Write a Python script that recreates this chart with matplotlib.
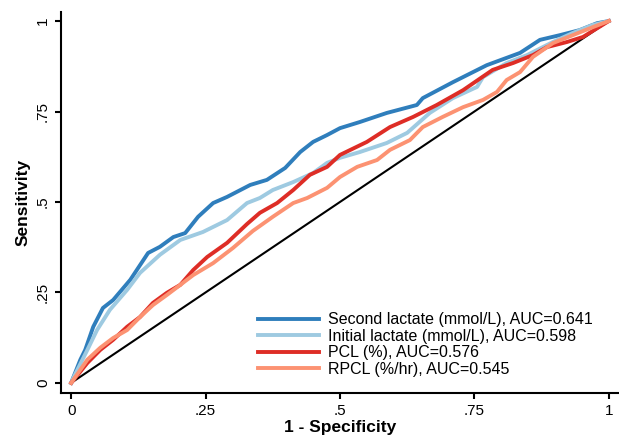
import matplotlib.pyplot as plt

plt.rcParams['font.family'] = ['Liberation Sans', 'DejaVu Sans']

# ROC points (1 - specificity, sensitivity) for each predictor
second_fpr = [0, .002, .017, .026, .041, .059, .078, .110, .143, .165, .190, .212, .236, .264,
              .290, .333, .364, .398, .426, .450, .476, .500, .537, .587, .643, .654, .710,
              .773, .835, .872, .909, .946, .978, 1]
second_tpr = [0, .008, .064, .091, .155, .207, .229, .285, .359, .376, .403, .414, .459, .497,
              .514, .547, .561, .594, .638, .666, .685, .704, .721, .746, .768, .787, .831,
              .878, .912, .948, .961, .975, .994, 1]

initial_fpr = [0, .004, .030, .048, .072, .104, .128, .165, .203, .245, .290, .327, .351, .375,
               .413, .450, .476, .500, .537, .587, .625, .667, .710, .755, .766, .810, .848,
               .896, .933, .970, 1]
initial_tpr = [0, .014, .091, .146, .202, .257, .304, .354, .395, .417, .450, .497, .511, .533,
               .555, .580, .608, .622, .638, .663, .691, .746, .787, .818, .845, .884, .906,
               .942, .967, .989, 1]

pcl_fpr = [0, .030, .054, .078, .104, .128, .152, .178, .203, .227, .253, .290, .327, .351,
           .383, .413, .444, .476, .500, .550, .593, .636, .680, .729, .784, .822, .859,
           .885, .922, .952, 1]
pcl_tpr = [0, .055, .091, .119, .155, .182, .221, .249, .271, .312, .348, .387, .439, .470,
           .497, .533, .575, .597, .630, .666, .707, .735, .768, .809, .865, .884, .906,
           .928, .942, .956, 1]

rpcl_fpr = [0, .030, .054, .078, .104, .128, .152, .178, .203, .227, .264, .301, .338, .375,
            .413, .439, .476, .500, .532, .569, .593, .630, .654, .691, .729, .766, .792,
            .810, .835, .859, .896, .933, .970, 1]
rpcl_tpr = [0, .064, .097, .124, .146, .182, .215, .243, .271, .298, .331, .373, .420, .459,
            .497, .511, .539, .569, .597, .616, .644, .671, .707, .735, .762, .782, .804,
            .837, .859, .901, .939, .961, .983, 1]

labels = ['Second lactate (mmol/L), AUC=0.641',
          'Initial lactate (mmol/L), AUC=0.598',
          'PCL (%), AUC=0.576',
          'RPCL (%/hr), AUC=0.545']
colors = ['#2f7ebc', '#9ecae1', '#de2d26', '#fc9272']
ticks = [0, .25, .5, .75, 1]
tick_labels = ['0', '.25', '.5', '.75', '1']

fig = plt.figure(figsize=(6.19, 4.36), dpi=100)
ax = fig.add_axes([61/619, 43/436, 558/619, 381/436])

curves = [(second_fpr, second_tpr), (initial_fpr, initial_tpr),
          (pcl_fpr, pcl_tpr), (rpcl_fpr, rpcl_tpr)]
for (fx, ty), c, lab in zip(curves, colors, labels):
    ax.plot(fx, ty, color=c, lw=2.8, label=lab, zorder=3)
# reference line
ax.plot([0, 1], [0, 1], color='black', lw=1.5, zorder=2)

ax.set_xlim(-0.019, 1.019)
ax.set_ylim(-0.028, 1.025)
ax.spines['top'].set_visible(False)
ax.spines['right'].set_visible(False)
ax.spines['left'].set_linewidth(1.5)
ax.spines['bottom'].set_linewidth(1.5)
ax.set_xticks(ticks)
ax.set_xticklabels(tick_labels)
ax.set_yticks(ticks)
ax.set_yticklabels(tick_labels, rotation=90, va='center')
ax.tick_params(direction='out', length=4, width=1.5, labelsize=11, pad=4)

ax.set_xlabel('1 - Specificity', fontsize=12.5, fontweight='bold', labelpad=1)
ax.set_ylabel('Sensitivity', fontsize=12.5, fontweight='bold', labelpad=4)

ax.legend(loc='lower right', bbox_to_anchor=(0.965, 0.025), frameon=False,
          fontsize=11.5, handlelength=3.8, handletextpad=0.6, labelspacing=0.1,
          borderaxespad=0)

fig.savefig('out.png', dpi=100)
